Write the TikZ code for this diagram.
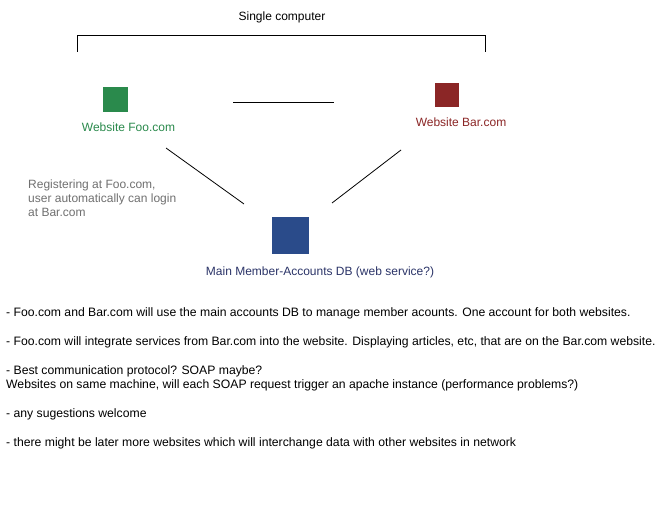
\documentclass[tikz,border=0pt]{standalone}
\usepackage{fontspec}
\setmainfont{Liberation Sans}
\begin{document}
\begin{tikzpicture}[x=1pt,y=-1pt,
  txt/.style={inner sep=0pt,font=\fontsize{12}{14}\selectfont},
  note/.style={inner sep=0pt,anchor=base west,font=\fontsize{12.2}{14}\selectfont},
  sq/.style={inner sep=0pt,minimum size=#1},
  ln/.style={draw=black,line width=0.8pt}]
\definecolor{foog}{HTML}{2A8A4C}
\definecolor{barr}{HTML}{8B2626}
\definecolor{dbb}{HTML}{2A4B8A}
\definecolor{dbt}{HTML}{2B3468}
\definecolor{grayt}{HTML}{707070}
\useasboundingbox[fill=white] (0,0) rectangle (660,518);
\node[txt,anchor=base] (title) at (282,21) {Single computer};
\draw[ln] (77,52) -- (77,35) -- (485,35) -- (485,52);
\node[sq=25pt,fill=foog] (foo) at (115.5,99.5) {};
\node[txt,anchor=base,text=foog] (fool) at (128.5,132) {Website Foo.com};
\node[sq=24pt,fill=barr] (bar) at (447,95) {};
\node[txt,anchor=base,text=barr] (barl) at (461,127) {Website Bar.com};
\coordinate (h1) at (233,102);
\coordinate (h2) at (334,102);
\draw[ln] (h1) -- (h2);
\coordinate (fa) at (166,148);
\coordinate (fb) at (244,204);
\coordinate (ba) at (401,150);
\coordinate (bb) at (332,203);
\draw[ln] (fa) -- (fb);
\draw[ln] (ba) -- (bb);
\node[sq=37pt,fill=dbb] (db) at (290.5,235.5) {};
\node[txt,anchor=base,text=dbt] (dbl) at (320,276) {Main Member-Accounts DB (web service?)};
\node[txt,anchor=north west,align=left,text=grayt] (reg) at (28,180) {Registering at Foo.com,\\user automatically can login\\at Bar.com};
\node[note] (n1) at (6,316) {- Foo.com and Bar.com will use the main accounts DB to manage member acounts. One account for both websites.};
\node[note] (n2) at (6,345) {- Foo.com will integrate services from Bar.com into the website. Displaying articles, etc, that are on the Bar.com website.};
\node[note] (n3) at (6,374) {- Best communication protocol? SOAP maybe?};
\node[note] (n4) at (6,388) {Websites on same machine, will each SOAP request trigger an apache instance (performance problems?)};
\node[note] (n5) at (6,417) {- any sugestions welcome};
\node[note] (n6) at (6,446) {- there might be later more websites which will interchange data with other websites in network};
\end{tikzpicture}
\end{document}
